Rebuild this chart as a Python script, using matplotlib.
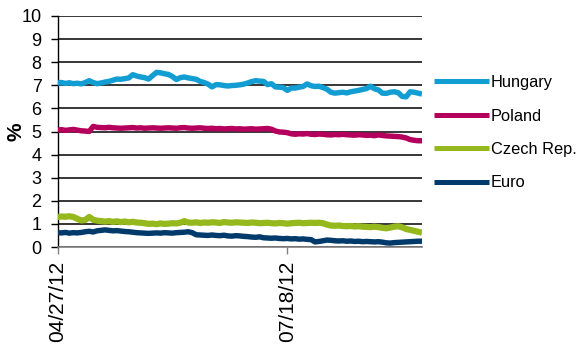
import numpy as np
import pandas as pd
import matplotlib
matplotlib.use("Agg")
import matplotlib.pyplot as plt

plt.rcParams['font.family'] = ['Liberation Sans', 'DejaVu Sans']

# Trading days covered by the chart
dates = pd.bdate_range('2012-04-27', '2012-09-04')
tick_dates = ['2012-04-27', '2012-07-18']

hungary = [7.10, 7.12, 7.08, 7.11, 7.07, 7.09, 7.06, 7.12, 7.20, 7.12,
           7.07, 7.10, 7.14, 7.17, 7.22, 7.27, 7.26, 7.29, 7.32, 7.46,
           7.40, 7.36, 7.33, 7.27, 7.42, 7.56, 7.54, 7.50, 7.47, 7.38,
           7.25, 7.33, 7.36, 7.32, 7.29, 7.26, 7.17, 7.12, 7.05, 6.93,
           7.03, 7.02, 6.99, 6.97, 6.99, 7.00, 7.02, 7.05, 7.10, 7.16,
           7.20, 7.18, 7.17, 7.03, 7.07, 6.93, 6.92, 6.90, 6.78, 6.88,
           6.88, 6.92, 6.95, 7.06, 6.98, 6.95, 6.96, 6.90, 6.83, 6.70,
           6.66, 6.68, 6.70, 6.67, 6.72, 6.75, 6.78, 6.82, 6.86, 6.96,
           6.85, 6.80, 6.66, 6.65, 6.70, 6.72, 6.68, 6.52, 6.50, 6.72,
           6.70, 6.66, 6.62]

poland = [5.06, 5.08, 5.05, 5.07, 5.09, 5.06, 5.03, 5.02, 5.00, 5.22,
          5.18, 5.17, 5.16, 5.18, 5.16, 5.15, 5.14, 5.15, 5.16, 5.17,
          5.15, 5.16, 5.14, 5.15, 5.16, 5.15, 5.14, 5.15, 5.16, 5.15,
          5.14, 5.16, 5.17, 5.15, 5.14, 5.15, 5.16, 5.14, 5.13, 5.14,
          5.12, 5.13, 5.11, 5.12, 5.13, 5.11, 5.12, 5.10, 5.11, 5.12,
          5.10, 5.11, 5.12, 5.13, 5.10, 5.02, 4.98, 4.97, 4.95, 4.90,
          4.88, 4.90, 4.89, 4.91, 4.88, 4.87, 4.89, 4.88, 4.86, 4.85,
          4.87, 4.86, 4.88, 4.86, 4.85, 4.84, 4.86, 4.85, 4.83, 4.84,
          4.82, 4.85, 4.83, 4.81, 4.80, 4.79, 4.78, 4.76, 4.72, 4.65,
          4.62, 4.60, 4.60]

czech = [1.30, 1.32, 1.31, 1.33, 1.30, 1.22, 1.15, 1.17, 1.30, 1.18,
         1.14, 1.12, 1.10, 1.12, 1.09, 1.11, 1.08, 1.10, 1.07, 1.09,
         1.06, 1.05, 1.03, 1.00, 1.01, 0.99, 1.02, 1.00, 1.01, 1.03,
         1.02, 1.05, 1.12, 1.06, 1.05, 1.07, 1.04, 1.06, 1.05, 1.07,
         1.06, 1.04, 1.08, 1.06, 1.05, 1.07, 1.06, 1.05, 1.04, 1.06,
         1.05, 1.03, 1.04, 1.05, 1.03, 1.02, 1.04, 1.03, 1.01, 1.03,
         1.04, 1.05, 1.03, 1.04, 1.05, 1.04, 1.05, 1.03, 0.97, 0.93,
         0.92, 0.93, 0.91, 0.90, 0.91, 0.89, 0.90, 0.88, 0.87, 0.86,
         0.88, 0.86, 0.83, 0.81, 0.84, 0.88, 0.90, 0.85, 0.78, 0.74,
         0.70, 0.66, 0.62]

euro = [0.62, 0.61, 0.63, 0.60, 0.62, 0.61, 0.63, 0.66, 0.68, 0.65,
        0.70, 0.72, 0.74, 0.72, 0.70, 0.71, 0.69, 0.67, 0.66, 0.64,
        0.62, 0.61, 0.60, 0.59, 0.60, 0.61, 0.60, 0.62, 0.61, 0.60,
        0.62, 0.63, 0.64, 0.66, 0.62, 0.53, 0.52, 0.51, 0.50, 0.52,
        0.50, 0.49, 0.51, 0.48, 0.47, 0.49, 0.48, 0.46, 0.45, 0.43,
        0.42, 0.44, 0.40, 0.39, 0.38, 0.39, 0.37, 0.36, 0.37, 0.35,
        0.36, 0.34, 0.35, 0.33, 0.32, 0.22, 0.24, 0.27, 0.30, 0.29,
        0.27, 0.26, 0.27, 0.25, 0.26, 0.24, 0.25, 0.23, 0.24, 0.23,
        0.22, 0.23, 0.21, 0.18, 0.17, 0.19, 0.20, 0.21, 0.22, 0.23,
        0.24, 0.25, 0.25]

series = [
    ('Hungary', hungary, '#129ED2', 3.9),
    ('Poland', poland, '#B4005C', 3.9),
    ('Czech Rep.', czech, '#95B91C', 4.5),
    ('Euro', euro, '#003A6B', 3.9),
]

fig = plt.figure(figsize=(5.79, 3.51), dpi=100)
ax = fig.add_axes([57.5 / 579, 1 - 247 / 351, (422 - 57.5) / 579, (247 - 16) / 351])

x = np.arange(len(dates))
for name, vals, color, lw in series:
    ax.plot(x, vals, color=color, lw=lw, label=name, solid_capstyle='butt', zorder=3)

ax.set_xlim(0, len(dates) - 1)
ax.set_ylim(0, 10)
ax.set_yticks(range(0, 11))
ax.yaxis.grid(True, color='black', lw=1.1)
ax.set_axisbelow(True)

tick_pos = [dates.get_loc(pd.Timestamp(d)) for d in tick_dates]
ax.set_xticks(tick_pos)
ax.set_xticklabels([pd.Timestamp(d).strftime('%m/%d/%y') for d in tick_dates],
                   rotation=90, fontsize=15)

ax.tick_params(axis='y', labelsize=13, length=5, width=1, pad=6.5, color='black')
ax.tick_params(axis='x', length=5, width=1, pad=5, color='#808080')

for s in ('top', 'right'):
    ax.spines[s].set_visible(False)
ax.spines['left'].set_color('black')
ax.spines['left'].set_linewidth(1)
ax.spines['bottom'].set_color('#808080')
ax.spines['bottom'].set_linewidth(1.2)
ax.spines['bottom'].set_zorder(4)

ax.set_ylabel('%', fontsize=15, fontweight='bold')
ax.yaxis.set_label_coords((26 - 57.5) / 364.5, 0.5)

leg = ax.legend(loc='upper left', bbox_to_anchor=(1.014, 0.772), frameon=False,
                fontsize=11.8, handlelength=3.4, handletextpad=0.1,
                labelspacing=1.12, borderaxespad=0)
for h in leg.get_lines():
    h.set_linewidth(3.6)

fig.savefig('out.png', dpi=100)
